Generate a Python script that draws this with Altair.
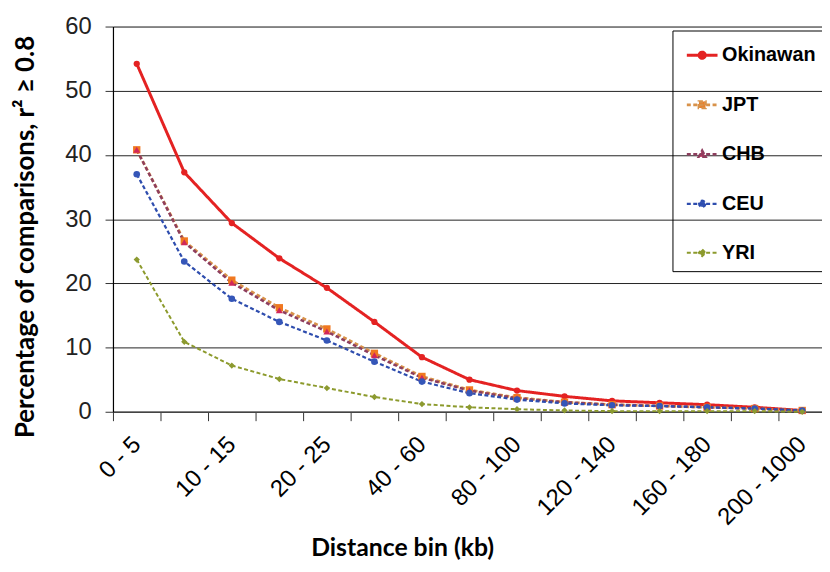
import json
import altair as alt
import pandas as pd

categories = ["0 - 5", "5 - 10", "10 - 15", "15 - 20", "20 - 25", "25 - 40", "40 - 60",
              "60 - 80", "80 - 100", "100 - 120", "120 - 140", "140 - 160", "160 - 180",
              "180 - 200", "200 - 1000"]
series_names = ["Okinawan", "JPT", "CHB", "CEU", "YRI"]
okinawan = [54.2, 37.3, 29.4, 23.9, 19.3, 14.0, 8.5, 5.0, 3.3, 2.4, 1.7, 1.4, 1.1, 0.7, 0.2]
jpt = [40.8, 26.6, 20.5, 16.2, 12.9, 9.1, 5.5, 3.4, 2.2, 1.5, 1.1, 0.9, 0.7, 0.5, 0.2]
chb = [40.8, 26.4, 20.1, 15.8, 12.5, 8.8, 5.3, 3.3, 2.1, 1.5, 1.1, 0.9, 0.7, 0.5, 0.2]
ceu = [37.0, 23.4, 17.6, 14.0, 11.1, 7.8, 4.7, 2.9, 1.9, 1.3, 1.0, 0.9, 0.7, 0.5, 0.2]
yri = [23.7, 10.9, 7.2, 5.1, 3.7, 2.3, 1.2, 0.7, 0.4, 0.2, 0.1, 0.1, 0.1, 0.1, 0.0]
y_ticks = [0, 10, 20, 30, 40, 50, 60]

line_colors = ["#E42222", "#D8924A", "#8E3E5E", "#2E4DAE", "#8C9A2C"]
marker_fills = ["#E42222", "#F07820", "#D0285A", "#3556B8", "#8C9A30"]
dashes = [[1, 0], [4, 2.5], [4, 2.5], [4, 2.5], [4, 2.5]]
widths = [3, 2, 2, 2, 2]
marker_shapes = ["circle", "square", "triangle-up", "circle", "diamond"]
marker_sizes = [40, 55, 50, 45, 40]
legend_paths = [
    "M-1,0L1,0M0.2,0A0.2,0.2 0 1,1 -0.2,0A0.2,0.2 0 1,1 0.2,0Z",
    "M-1,0L1,0M-0.21,-0.21L0.21,-0.21L0.21,0.21L-0.21,0.21Z",
    "M-1,0L1,0M0,-0.24L0.22,0.16L-0.22,0.16Z",
    "M-1,0L1,0M0.2,0A0.2,0.2 0 1,1 -0.2,0A0.2,0.2 0 1,1 0.2,0Z",
    "M-1,0L1,0M0,-0.22L0.22,0L0,0.22L-0.22,0Z",
]

rows = []
for name, vals in zip(series_names, [okinawan, jpt, chb, ceu, yri]):
    for i, (c, v) in enumerate(zip(categories, vals)):
        rows.append({"series": name, "bin": c, "idx": i, "value": v})
df = pd.DataFrame(rows)

W, H = 716, 389
STEP = 48
x_domain = [-0.5, -0.5 + W / STEP]

names_js = json.dumps(series_names)
cats_js = json.dumps(categories)


def pick(values):
    return alt.ExprRef(expr=f"{json.dumps(values)}[indexof({names_js}, datum.value)]")


legend = alt.Legend(
    title=None, orient="none", legendX=565, legendY=4,
    strokeColor="black", padding=8, rowPadding=23,
    symbolSize=961, symbolOffset=5, labelOffset=3,
    labelFont="Liberation Sans", labelFontSize=20, labelFontWeight="bold",
    labelColor="black", labelLimit=300,
    symbolType=pick(legend_paths),
    symbolStrokeColor=pick(line_colors),
    symbolFillColor=pick(marker_fills),
    symbolDash=pick(dashes),
    symbolStrokeWidth=pick(widths),
    symbolOpacity=1,
)

x_axis = alt.Axis(
    values=[i - 0.5 for i in range(len(categories))],
    labelExpr=f"((datum.value + 0.5) % 2 == 0) ? {cats_js}[datum.value + 0.5] : ''",
    labelOffset=STEP / 2, labelAngle=-45, labelAlign="right", labelBaseline="middle",
    labelPadding=20, labelOverlap=False, labelFlush=False, labelBound=False,
    labelFont="Liberation Sans", labelFontSize=24, labelColor="black",
    tickSize=9, tickColor="#333", domainColor="#444", domainWidth=1.5, grid=False,
    title="Distance bin (kb)", titleFont="Lato", titleFontSize=25, titleFontWeight="bold",
    titleColor="black", titleX=292, titleY=137, titleAlign="center", titleBaseline="middle",
)

y_axis = alt.Axis(
    values=y_ticks, labelFont="Liberation Sans", labelFontSize=24, labelColor="#222",
    labelPadding=14, tickSize=8, tickColor="#333", domainColor="black", domainWidth=1.2,
    grid=True, gridColor="#222", gridWidth=1, gridOpacity=1,
    title="Percentage of comparisons, r² ≥ 0.8", titleFont="Lato", titleFontSize=26,
    titleFontWeight="bold", titleColor="black", titleX=-88, titleY=212,
    titleAngle=-90, titleAlign="center", titleBaseline="middle",
)

x_enc = alt.X("idx:Q", scale=alt.Scale(domain=x_domain, nice=False, zero=False), axis=x_axis)
y_enc = alt.Y("value:Q", scale=alt.Scale(domain=[0, 60], nice=False), axis=y_axis)

lines = alt.Chart(df).mark_line().encode(
    x=x_enc, y=y_enc,
    color=alt.Color("series:N", scale=alt.Scale(domain=series_names, range=line_colors), legend=legend),
    strokeDash=alt.StrokeDash("series:N", scale=alt.Scale(domain=series_names, range=dashes), legend=None),
    strokeWidth=alt.StrokeWidth("series:N", scale=alt.Scale(domain=series_names, range=widths), legend=None),
    order="idx:Q",
)

point_layers = []
for name, shp, fc, sz in zip(series_names, marker_shapes, marker_fills, marker_sizes):
    point_layers.append(
        alt.Chart(df).transform_filter(alt.datum.series == name)
        .mark_point(filled=True, opacity=1, size=sz, strokeWidth=0, shape=shp, fill=fc)
        .encode(x=x_enc, y=y_enc)
    )

chart = alt.layer(lines, *point_layers).properties(
    width=W, height=H,
    autosize=alt.AutoSizeParams(type="none"),
    padding={"left": 106, "top": 16, "right": 0, "bottom": 151},
).configure_view(stroke=None).configure(background="white")

chart.save("out.html", embed_options={"renderer": "svg", "actions": False})
